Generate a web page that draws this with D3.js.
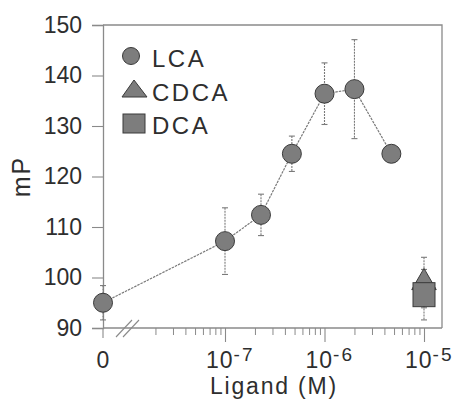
<!DOCTYPE html>
<html>
<head>
<meta charset="utf-8">
<title>mP vs Ligand</title>
<script src="https://cdn.jsdelivr.net/npm/d3@7/dist/d3.min.js"></script>
<style>
  body { margin: 0; background: #fff; }
  text { font-family: "Liberation Sans", Arial, sans-serif; fill: #2e2e2e; }
</style>
</head>
<body>
<script>
// data
var lcaConc = [0, 1e-7, 2.3e-7, 4.7e-7, 1e-6, 2e-6, 4.7e-6];
var lcaMP   = [95, 107.2, 112.4, 124.5, 136.4, 137.3, 124.5];
var lcaErr  = [3.4, 6.6, 4.1, 3.5, 6.1, 9.8, 0];
var cdcaConc = [1e-5], cdcaMP = [99.0], cdcaErr = [5.0];
var dcaConc  = [1e-5], dcaMP  = [96.6], dcaErr  = [5.0];
var yTicks = [90, 100, 110, 120, 130, 140, 150];
var xMajor = [1e-7, 1e-6, 1e-5];
var xMajorExp = ["-7", "-6", "-5"];
var legendNames = ["LCA", "CDCA", "DCA"];

var W = 461, H = 408;
var pLeft = 103, pRight = 442, pTop = 25, pBottom = 328;

var svg = d3.select("body").append("svg")
  .attr("width", W).attr("height", H);

var y = d3.scaleLinear().domain([90, 150]).range([pBottom, pTop]);
var xl = d3.scaleLog().domain([1e-8, 1e-5]).range([125.5, 424]);
function xp(c) { return c === 0 ? pLeft : xl(c); }

var xMinor = [];
[1e-8, 1e-7, 1e-6].forEach(function(d) {
  for (var k = 2; k <= 9; k++) xMinor.push(k * d);
});

var gridCol = "#8a8a8a";

// frame: top and right
svg.append("path")
  .attr("d", "M" + pLeft + "," + pTop + "H" + pRight + "V" + pBottom)
  .attr("fill", "none").attr("stroke", gridCol).attr("stroke-width", 1.3);

// y axis
var yAxis = svg.append("g")
  .attr("transform", "translate(" + pLeft + ",0)")
  .call(d3.axisLeft(y).tickValues(yTicks).tickSize(11).tickPadding(10));
yAxis.select(".domain").attr("stroke", gridCol).attr("stroke-width", 1.3);
yAxis.selectAll(".tick line").attr("stroke", gridCol).attr("stroke-width", 1.1);
yAxis.selectAll("text").attr("font-size", 23).attr("fill", "#2e2e2e")
  .style("font-family", "'Liberation Sans', Arial, sans-serif");

// x axis line
svg.append("line")
  .attr("x1", pLeft).attr("x2", pRight).attr("y1", pBottom).attr("y2", pBottom)
  .attr("stroke", gridCol).attr("stroke-width", 1.3);

// minor ticks
var gMin = svg.append("g")
  .attr("transform", "translate(0," + pBottom + ")")
  .call(d3.axisBottom(xl).tickValues(xMinor).tickSize(7).tickFormat(""));
gMin.select(".domain").remove();
gMin.selectAll(".tick line").attr("stroke", gridCol);

// major ticks
var gMaj = svg.append("g")
  .attr("transform", "translate(0," + pBottom + ")")
  .call(d3.axisBottom(xl).tickValues(xMajor).tickSize(14).tickFormat(""));
gMaj.select(".domain").remove();
gMaj.selectAll(".tick line").attr("stroke", gridCol).attr("stroke-width", 1.1);

// zero tick
svg.append("line")
  .attr("x1", pLeft).attr("x2", pLeft).attr("y1", pBottom).attr("y2", pBottom + 10)
  .attr("stroke", gridCol).attr("stroke-width", 1.1);

// axis break
[0, 7].forEach(function(o) {
  svg.append("line")
    .attr("x1", 116 + o).attr("y1", pBottom + 9)
    .attr("x2", 132 + o).attr("y2", pBottom - 8)
    .attr("stroke", gridCol).attr("stroke-width", 1.1);
});

// x tick labels
svg.append("text").attr("x", pLeft).attr("y", 368)
  .attr("text-anchor", "middle").attr("font-size", 23).text("0");
xMajor.forEach(function(d, i) {
  var t = svg.append("text").attr("x", xl(d) - 19).attr("y", 368)
    .attr("font-size", 23).attr("letter-spacing", 1);
  t.append("tspan").text("10");
  t.append("tspan").attr("dy", -7).attr("font-size", 19)
    .attr("letter-spacing", 2).text(xMajorExp[i]);
});

// axis titles
svg.append("text").attr("x", 274).attr("y", 394)
  .attr("text-anchor", "middle").attr("font-size", 23)
  .attr("letter-spacing", 1.8).text("Ligand (M)");
svg.append("text")
  .attr("transform", "translate(30," + ((pTop + pBottom) / 2) + ") rotate(-90)")
  .attr("text-anchor", "middle").attr("font-size", 25)
  .attr("letter-spacing", 2).text("mP");

var lineCol = "#7a7a7a";
var markFill = "#7d7d7d", markStroke = "#3a3a3a";

// error bars
function errBars(conc, vals, errs) {
  conc.forEach(function(c, i) {
    if (!errs[i]) return;
    var cx = xp(c);
    var y1 = y(vals[i] + errs[i]), y2 = y(vals[i] - errs[i]);
    svg.append("line").attr("x1", cx).attr("x2", cx).attr("y1", y1).attr("y2", y2)
      .attr("stroke", lineCol).attr("stroke-width", 1.1).attr("stroke-dasharray", "2,1");
    [y1, y2].forEach(function(yy) {
      svg.append("line").attr("x1", cx - 3).attr("x2", cx + 3).attr("y1", yy).attr("y2", yy)
        .attr("stroke", lineCol).attr("stroke-width", 1.1);
    });
  });
}
errBars(lcaConc, lcaMP, lcaErr);
errBars(cdcaConc, cdcaMP, cdcaErr);
errBars(dcaConc, dcaMP, dcaErr);

// LCA line
var line = d3.line().x(function(d) { return xp(d[0]); }).y(function(d) { return y(d[1]); });
svg.append("path")
  .datum(d3.zip(lcaConc, lcaMP))
  .attr("d", line).attr("fill", "none")
  .attr("stroke", lineCol).attr("stroke-width", 1.2).attr("stroke-dasharray", "2.5,1");

// LCA circles
svg.selectAll("circle.lca").data(d3.zip(lcaConc, lcaMP)).enter()
  .append("circle").attr("class", "lca")
  .attr("cx", function(d) { return xp(d[0]); })
  .attr("cy", function(d) { return y(d[1]); })
  .attr("r", 9.5)
  .attr("fill", markFill).attr("stroke", markStroke).attr("stroke-width", 1);

// CDCA triangles
var tri = d3.symbol().type(d3.symbolTriangle).size(260);
svg.selectAll("path.cdca").data(d3.zip(cdcaConc, cdcaMP)).enter()
  .append("path").attr("class", "cdca")
  .attr("d", tri)
  .attr("transform", function(d) { return "translate(" + xp(d[0]) + "," + y(d[1]) + ")"; })
  .attr("fill", markFill).attr("stroke", markStroke).attr("stroke-width", 1);

// DCA squares
svg.selectAll("rect.dca").data(d3.zip(dcaConc, dcaMP)).enter()
  .append("rect").attr("class", "dca")
  .attr("x", function(d) { return xp(d[0]) - 11; })
  .attr("y", function(d) { return y(d[1]) - 12; })
  .attr("width", 22).attr("height", 24)
  .attr("fill", markFill).attr("stroke", markStroke).attr("stroke-width", 1);

// legend
var lg = svg.append("g");
lg.append("circle").attr("cx", 131).attr("cy", 56).attr("r", 8.5)
  .attr("fill", markFill).attr("stroke", markStroke);
lg.append("path").attr("d", "M134,80L147,97L122,97Z")
  .attr("fill", markFill).attr("stroke", markStroke);
lg.append("rect").attr("x", 123).attr("y", 114).attr("width", 22).attr("height", 19)
  .attr("fill", markFill).attr("stroke", markStroke);
legendNames.forEach(function(n, i) {
  lg.append("text").attr("x", 152).attr("y", 67 + i * 33.5)
    .attr("font-size", 24).attr("letter-spacing", 2.5).text(n);
});
</script>
</body>
</html>
